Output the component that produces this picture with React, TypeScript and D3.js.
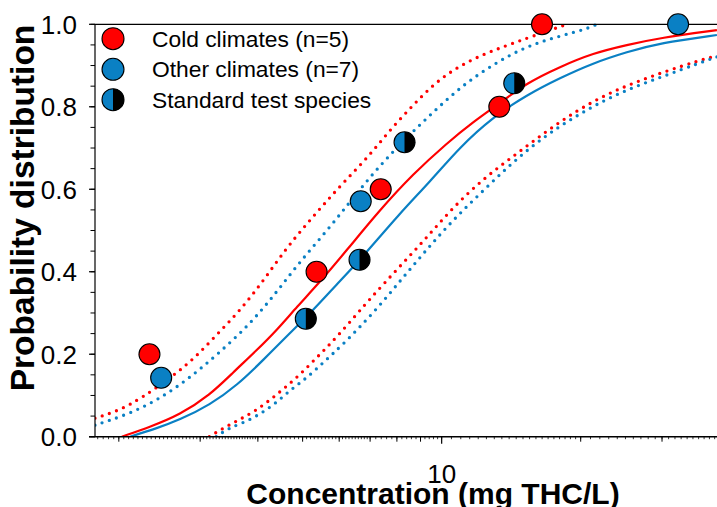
import React, { Component } from 'react';
import * as d3 from 'd3';

type Pt = [number, number];

const RED = '#ff0000';
const BLUE = '#0a80c4';
const FONT = '"Liberation Sans", Arial, Helvetica, sans-serif';

// observed species points [concentration mg THC/L, cumulative probability]
const coldPoints: Pt[] = [[2.33, 0.2], [5.36, 0.4], [7.38, 0.6], [13.33, 0.8], [16.49, 1.0]];
const otherPoints: Pt[] = [[2.47, 0.143], [6.68, 0.571], [32.5, 1.0]];
const standardPoints: Pt[] = [[5.08, 0.286], [6.64, 0.429], [8.31, 0.714], [14.36, 0.857]];

// fitted SSD curves (solid) and confidence limits (dotted)
const coldFit: Pt[] = [
  [2.03, 0], [2.34, 0.024], [2.71, 0.053], [3.15, 0.101], [3.53, 0.155], [3.98, 0.21],
  [4.4, 0.259], [4.86, 0.315], [5.45, 0.375], [6.24, 0.453], [7.35, 0.55], [8.67, 0.637],
  [10.27, 0.712], [11.69, 0.763], [13.37, 0.809], [15.3, 0.858], [18.04, 0.897],
  [21.27, 0.93], [25.19, 0.95], [29.69, 0.967], [39.44, 0.986]
];
const otherFit: Pt[] = [
  [2.115, 0], [2.4, 0.019], [2.71, 0.041], [3.15, 0.077], [3.61, 0.125], [4.11, 0.186],
  [4.7, 0.252], [5.27, 0.307], [5.91, 0.368], [6.66, 0.429], [8.12, 0.542], [9.43, 0.618],
  [10.96, 0.703], [12.91, 0.775], [15.3, 0.829], [18.04, 0.87], [21.27, 0.906],
  [25.19, 0.933], [29.69, 0.955], [39.44, 0.974]
];
const coldUpper: Pt[] = [
  [1.776, 0.045], [2.0, 0.063], [2.25, 0.095], [2.62, 0.147], [2.94, 0.194], [3.28, 0.251],
  [3.66, 0.306], [4.11, 0.378], [4.58, 0.453], [5.06, 0.511], [5.59, 0.567], [6.21, 0.623],
  [6.99, 0.683], [7.73, 0.744], [8.67, 0.804], [9.67, 0.858], [10.85, 0.897], [12.23, 0.926],
  [13.71, 0.947], [15.37, 0.967], [16.99, 0.984], [18.67, 1.0]
];
const otherUpper: Pt[] = [
  [1.776, 0.028], [2.08, 0.053], [2.43, 0.089], [2.83, 0.14], [3.28, 0.201], [3.83, 0.271],
  [4.36, 0.346], [4.89, 0.419], [5.59, 0.494], [6.33, 0.569], [7.14, 0.642], [8.25, 0.717],
  [9.58, 0.787], [11.12, 0.853], [12.98, 0.904], [15.14, 0.945], [17.68, 0.969],
  [20.63, 0.989], [21.69, 1.0]
];
const coldLower: Pt[] = [
  [3.14, 0], [3.38, 0.022], [3.64, 0.041], [3.93, 0.061], [4.25, 0.089], [4.58, 0.119],
  [4.94, 0.151], [5.32, 0.188], [5.73, 0.224], [6.33, 0.278], [6.99, 0.334], [8.04, 0.408],
  [9.25, 0.481], [10.58, 0.556], [12.35, 0.627], [14.41, 0.683], [16.82, 0.74], [19.63, 0.791],
  [22.8, 0.831], [26.47, 0.861], [30.9, 0.888], [36.06, 0.912], [39.44, 0.924]
];
const otherLower: Pt[] = [
  [3.25, 0], [3.46, 0.021], [3.73, 0.034], [4.05, 0.055], [4.38, 0.082], [4.72, 0.115],
  [5.09, 0.141], [5.59, 0.184], [6.12, 0.224], [7.1, 0.299], [8.08, 0.374], [9.2, 0.449],
  [10.53, 0.523], [12.23, 0.594], [14.2, 0.664], [16.57, 0.726], [19.43, 0.776],
  [22.57, 0.817], [26.34, 0.85], [30.74, 0.877], [35.88, 0.905], [39.44, 0.921]
];

const legendLabels = ['Cold climates (n=5)', 'Other climates (n=7)', 'Standard test species'];
const yTicks = [0, 0.2, 0.4, 0.6, 0.8, 1.0];
const xLabelTicks = [10];
const xMidTicks = [2, 3, 4, 5, 6, 7, 8, 9, 20, 30, 40];
// minor tick spacing [from, to, step]
const xMinorRuns: [number, number, number][] = [[1.8, 4, 0.05], [4, 7, 0.1], [7, 10, 0.2], [10, 20, 0.5], [20, 42, 1]];

class Chart extends Component {
  componentDidMount() {
    this.renderChart();
  }

  renderChart() {
    d3.selectAll('#chart > *').remove();
    const width = 717, height = 507;
    const left = 95, right = 730, top = 24.3, bottom = 436.7;

    const svg = d3.select('#chart')
      .append('svg')
      .attr('width', width)
      .attr('height', height)
      .style('display', 'block')
      .attr('font-family', FONT);

    const x = d3.scaleLog().domain([1.776, 42.1]).range([left, right]);
    const y = d3.scaleLinear().domain([0, 1]).range([bottom, top]);

    svg.append('defs').append('clipPath')
      .attr('id', 'plotclip')
      .append('rect')
      .attr('x', left).attr('y', top - 2)
      .attr('width', right - left).attr('height', bottom - top + 2);

    const line = d3.line<Pt>()
      .x(d => x(d[0]))
      .y(d => y(d[1]))
      .curve(d3.curveBasis);

    const plot = svg.append('g').attr('clip-path', 'url(#plotclip)');

    // confidence limits, dotted
    const dotted: [Pt[], string][] = [[coldUpper, RED], [coldLower, RED], [otherUpper, BLUE], [otherLower, BLUE]];
    dotted.forEach(([data, col]) => {
      plot.append('path')
        .datum(data)
        .attr('d', line)
        .attr('fill', 'none')
        .attr('stroke', col)
        .attr('stroke-width', 3.3)
        .attr('stroke-linecap', 'round')
        .attr('stroke-dasharray', '0 7.6');
    });

    // fitted curves
    const solid: [Pt[], string][] = [[otherFit, BLUE], [coldFit, RED]];
    solid.forEach(([data, col]) => {
      plot.append('path')
        .datum(data)
        .attr('d', line)
        .attr('fill', 'none')
        .attr('stroke', col)
        .attr('stroke-width', 2.2);
    });

    // axes
    const axes = svg.append('g').attr('stroke', '#000').attr('fill', 'none');
    axes.append('line').attr('x1', left).attr('x2', width).attr('y1', top).attr('y2', top).attr('stroke-width', 1.2);
    axes.append('line').attr('x1', left).attr('x2', left).attr('y1', top).attr('y2', bottom).attr('stroke-width', 1.2);
    axes.append('line').attr('x1', left - 6).attr('x2', width).attr('y1', bottom).attr('y2', bottom).attr('stroke-width', 1.4);

    const yMinor = d3.range(0, 1.0001, 0.05);
    axes.selectAll('.ymin').data(yMinor).enter().append('line')
      .attr('x1', left - 4.5).attr('x2', left)
      .attr('y1', d => y(d)).attr('y2', d => y(d))
      .attr('stroke-width', 1);
    axes.selectAll('.ymaj').data(yTicks).enter().append('line')
      .attr('x1', left - 6).attr('x2', left)
      .attr('y1', d => y(d)).attr('y2', d => y(d))
      .attr('stroke-width', 1.2);

    const xMinor: number[] = [];
    xMinorRuns.forEach(([a, b, s]) => {
      d3.range(a, b - 1e-9, s).forEach(v => xMinor.push(v));
    });
    axes.selectAll('.xmin').data(xMinor).enter().append('line')
      .attr('x1', d => x(d)).attr('x2', d => x(d))
      .attr('y1', bottom).attr('y2', bottom + 2.5)
      .attr('stroke-width', 0.8);
    axes.selectAll('.xmid').data(xMidTicks).enter().append('line')
      .attr('x1', d => x(d)).attr('x2', d => x(d))
      .attr('y1', bottom).attr('y2', bottom + 5)
      .attr('stroke-width', 1);
    axes.selectAll('.xmaj').data(xLabelTicks).enter().append('line')
      .attr('x1', d => x(d)).attr('x2', d => x(d))
      .attr('y1', bottom).attr('y2', bottom + 7)
      .attr('stroke-width', 1.2);

    // tick labels
    svg.selectAll('.ylab').data(yTicks).enter().append('text')
      .attr('x', 77)
      .attr('y', d => y(d))
      .attr('dy', '0.36em')
      .attr('text-anchor', 'end')
      .attr('font-size', 26)
      .text(d => d3.format('.1f')(d));
    svg.selectAll('.xlab').data(xLabelTicks).enter().append('text')
      .attr('x', d => x(d))
      .attr('y', 483)
      .attr('text-anchor', 'middle')
      .attr('font-size', 26)
      .text(d => String(d));

    // axis titles
    svg.append('text')
      .attr('x', 433).attr('y', 504)
      .attr('text-anchor', 'middle')
      .attr('font-size', 30)
      .attr('font-weight', 'bold')
      .text('Concentration (mg THC/L)');
    svg.append('text')
      .attr('transform', 'translate(34,208) rotate(-90)')
      .attr('text-anchor', 'middle')
      .attr('font-size', 33.5)
      .attr('font-weight', 'bold')
      .text('Probability distribution');

    // points
    const r = 10.5;
    const pts = svg.append('g').attr('stroke', '#000').attr('stroke-width', 1.1);
    pts.selectAll('.cold').data(coldPoints).enter().append('circle')
      .attr('cx', d => x(d[0])).attr('cy', d => y(d[1])).attr('r', r).attr('fill', RED);
    pts.selectAll('.other').data(otherPoints).enter().append('circle')
      .attr('cx', d => x(d[0])).attr('cy', d => y(d[1])).attr('r', r).attr('fill', BLUE);

    const halfMarker = (g: any, cx: number, cy: number, rad: number) => {
      g.append('circle').attr('cx', cx).attr('cy', cy).attr('r', rad).attr('fill', BLUE).attr('stroke', 'none');
      g.append('path')
        .attr('d', `M${cx},${cy - rad}A${rad},${rad} 0 0 1 ${cx},${cy + rad}Z`)
        .attr('fill', '#000').attr('stroke', 'none');
      g.append('circle').attr('cx', cx).attr('cy', cy).attr('r', rad).attr('fill', 'none');
    };
    standardPoints.forEach(d => halfMarker(pts, x(d[0]), y(d[1]), r));

    // legend
    const legend = svg.append('g');
    const lgY = [38.7, 69.3, 99.7];
    const lgStroke = legend.append('g').attr('stroke', '#000').attr('stroke-width', 1.1);
    lgStroke.append('circle').attr('cx', 113).attr('cy', lgY[0]).attr('r', 11).attr('fill', RED);
    lgStroke.append('circle').attr('cx', 113).attr('cy', lgY[1]).attr('r', 11).attr('fill', BLUE);
    halfMarker(lgStroke, 113, lgY[2], 11);
    legend.selectAll('.lgt').data(legendLabels).enter().append('text')
      .attr('x', 152)
      .attr('y', (d, i) => lgY[i] + 8)
      .attr('font-size', 22.8)
      .text(d => d);
  }

  render() {
    return (<div id="chart" style={{ position: 'absolute', left: 0, top: 0 }}></div>);
  }
}

export default function App() {
  return <Chart />;
}
